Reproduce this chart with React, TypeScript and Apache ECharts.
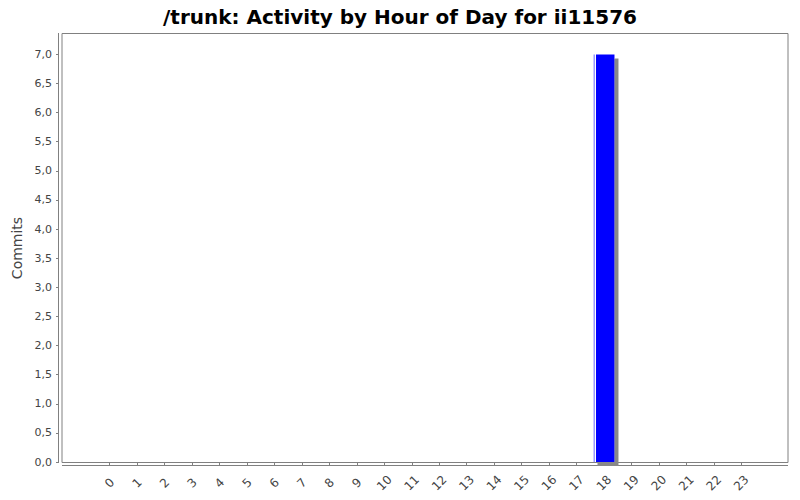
import React, { useEffect, useRef } from "react";
import * as echarts from "echarts";

const hours: string[] = Array.from({ length: 24 }, (_, i) => String(i));
const commits: number[] = [0, 0, 0, 0, 0, 0, 0, 0, 0, 0, 0, 0, 0, 0, 0, 0, 0, 0, 7, 0, 0, 0, 0, 0];
const yTicks: number[] = [0, 0.5, 1, 1.5, 2, 2.5, 3, 3.5, 4, 4.5, 5, 5.5, 6, 6.5, 7];

const FONT = "DejaVu Sans";

export default function App() {
  const ref = useRef<HTMLDivElement>(null);
  useEffect(() => {
    if (!ref.current) return;
    const chart = echarts.init(ref.current, undefined, { renderer: "svg" });
    chart.setOption({
      animation: false,
      backgroundColor: "#ffffff",
      title: {
        text: "/trunk: Activity by Hour of Day for ii11576",
        left: "center",
        top: 2,
        textStyle: { fontFamily: FONT, fontSize: 20, fontWeight: "bold", color: "#000" },
      },
      grid: { left: 96, right: 45, top: 34, bottom: 38 },
      graphic: [
        {
          type: "rect",
          shape: { x: 62, y: 33.5, width: 726, height: 429 },
          style: { fill: "none", stroke: "#808080", lineWidth: 1 },
          silent: true,
          z: 0,
        },
        {
          type: "line",
          shape: { x1: 62, y1: 465.5, x2: 788, y2: 465.5 },
          style: { stroke: "#808080", lineWidth: 1 },
          silent: true,
        },
        {
          type: "line",
          shape: { x1: 58.5, y1: 33, x2: 58.5, y2: 462.5 },
          style: { stroke: "#808080", lineWidth: 1 },
          silent: true,
        },
      ],
      xAxis: {
        type: "category",
        data: hours,
        offset: 3,
        axisLine: { show: false },
        axisTick: { show: true, alignWithLabel: true, length: 3, lineStyle: { color: "#808080" } },
        axisLabel: {
          rotate: 45,
          align: "center",
          verticalAlign: "middle",
          fontFamily: FONT,
          fontSize: 12,
          color: "#444444",
          margin: 18,
          interval: 0,
        },
        splitLine: { show: false },
      },
      yAxis: {
        type: "value",
        min: 0,
        max: 7.35,
        interval: 0.5,
        offset: 37,
        name: "Commits",
        nameLocation: "middle",
        nameGap: 34,
        nameTextStyle: { fontFamily: FONT, fontSize: 14, color: "#444444" },
        axisLine: { show: false },
        axisTick: {
          show: true,
          length: 3,
          lineStyle: { color: "#808080" },
          customValues: yTicks,
        },
        axisLabel: {
          fontFamily: FONT,
          fontSize: 11,
          color: "#444444",
          margin: 7,
          customValues: yTicks,
          formatter: (v: number) => v.toFixed(1).replace(".", ","),
        },
        splitLine: { show: false },
      },
      series: [
        {
          type: "bar",
          data: commits,
          barWidth: 21,
          itemStyle: {
            color: new echarts.graphic.LinearGradient(0, 0, 1, 0, [
              { offset: 0, color: "#9999ff" },
              { offset: 0.05, color: "#9999ff" },
              { offset: 0.05, color: "#ffffff" },
              { offset: 0.14, color: "#ffffff" },
              { offset: 0.14, color: "#0000ff" },
              { offset: 1, color: "#0000ff" },
            ]),
            shadowColor: "#888888",
            shadowBlur: 0,
            shadowOffsetX: 4,
            shadowOffsetY: 4,
          },
        },
      ],
    });
    return () => chart.dispose();
  }, []);
  return <div ref={ref} style={{ width: 800, height: 500, position: "absolute", left: 0, top: 0 }} />;
}
